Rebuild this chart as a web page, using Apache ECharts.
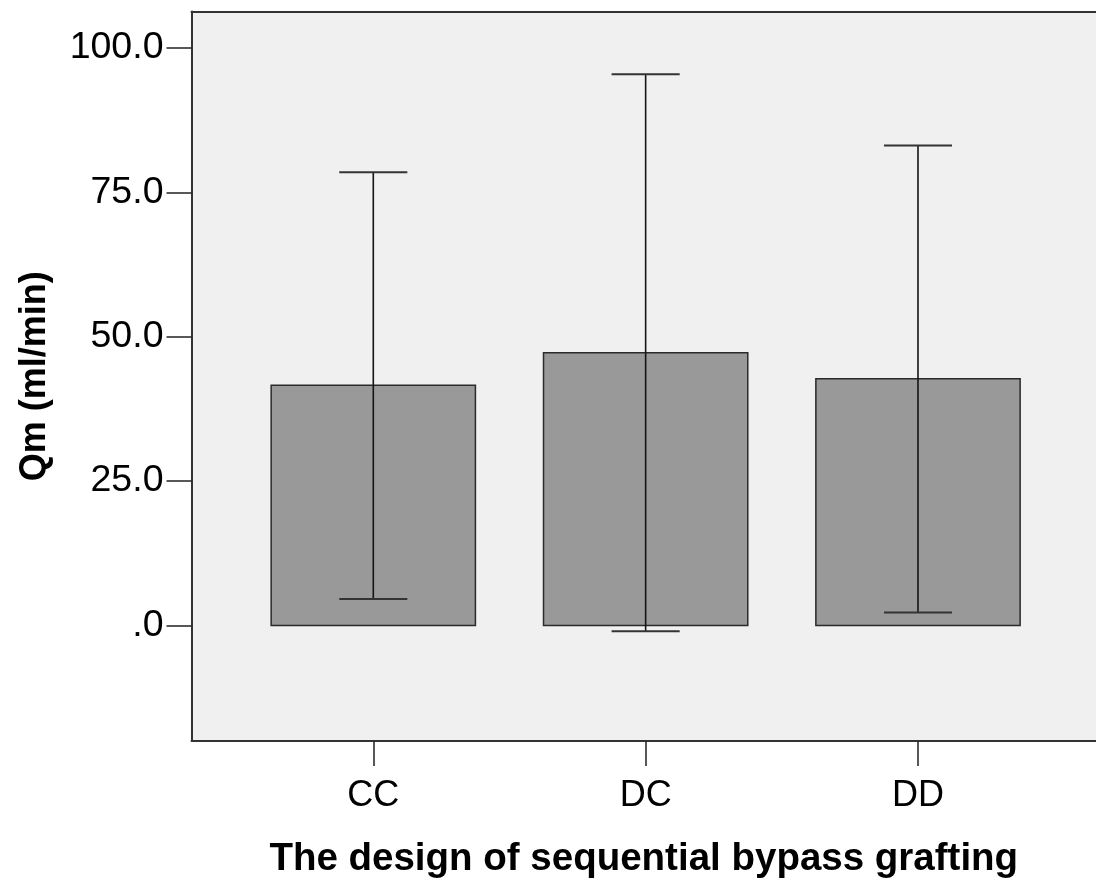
<!DOCTYPE html>
<html>
<head>
<meta charset="utf-8">
<script src="https://cdn.jsdelivr.net/npm/echarts@6/dist/echarts.min.js"></script>
<style>
html,body{margin:0;padding:0;background:#fff;}
#chart{width:1096px;height:884px;}
</style>
</head>
<body>
<div id="chart"></div>
<script>
const categories = ['CC', 'DC', 'DD'];
const means = [41.6, 47.2, 42.7];
const lowerCI = [4.6, -1.0, 2.25];
const upperCI = [78.45, 95.45, 83.1];
const yTicks = [0, 25, 50, 75, 100];
const xTitle = 'The design of sequential bypass grafting';
const yTitle = 'Qm (ml/min)';

const FONT = "'Liberation Sans', Arial, Helvetica, sans-serif";
const chart = echarts.init(document.getElementById('chart'), null, {renderer: 'canvas'});

const rows = categories.map((c, i) => [i + 1, means[i], lowerCI[i], upperCI[i]]);

const axisLineStyle = {color: '#333', width: 2};

const option = {
  animation: false,
  backgroundColor: '#ffffff',
  grid: {
    left: 191.5, top: 11.5, right: 0, height: 730.8,
    show: true, backgroundColor: '#f0f0f0', borderWidth: 0,
    containLabel: false
  },
  xAxis: [{
    type: 'value', min: 0.3325, max: 3.6536,
    axisLine: {show: true, onZero: false, lineStyle: axisLineStyle},
    axisTick: {show: true, length: 25, customValues: [1, 2, 3], lineStyle: {color: '#222', width: 1.5}},
    axisLabel: {
      customValues: [1, 2, 3], margin: 37,
      formatter: v => categories[Math.round(v) - 1] || '',
      fontFamily: FONT, fontSize: 36, color: '#000'
    },
    splitLine: {show: false},
    name: xTitle, nameLocation: 'middle', nameGap: 99,
    nameTextStyle: {fontFamily: FONT, fontSize: 38.5, fontWeight: 'bold', color: '#000'}
  }, {
    type: 'value', position: 'top', min: 0.3325, max: 3.6536,
    axisLine: {show: true, onZero: false, lineStyle: axisLineStyle},
    axisTick: {show: false}, axisLabel: {show: false}, splitLine: {show: false}
  }],
  yAxis: {
    type: 'value', min: -20, max: 106.3,
    axisLine: {show: true, onZero: false, lineStyle: axisLineStyle},
    axisTick: {show: true, length: 25, customValues: yTicks, lineStyle: {color: '#222', width: 1.5}},
    axisLabel: {
      customValues: yTicks, margin: 28,
      formatter: v => (v === 0 ? '.0' : v.toFixed(1)),
      fontFamily: FONT, fontSize: 37.5, color: '#000'
    },
    splitLine: {show: false},
    name: yTitle, nameLocation: 'middle', nameGap: 138,
    nameTextStyle: {fontFamily: FONT, fontSize: 36, fontWeight: 'bold', color: '#000'}
  },
  series: [{
    type: 'custom',
    clip: false,
    data: rows,
    encode: {x: 0, y: [1, 2, 3]},
    renderItem: function (params, api) {
      const x = api.value(0), m = api.value(1), lo = api.value(2), hi = api.value(3);
      const halfBar = 0.375, halfCap = 0.125;
      const tl = api.coord([x - halfBar, m]);
      const br = api.coord([x + halfBar, 0]);
      const pLo = api.coord([x, lo]);
      const pHi = api.coord([x, hi]);
      const capLoL = api.coord([x - halfCap, lo]), capLoR = api.coord([x + halfCap, lo]);
      const capHiL = api.coord([x - halfCap, hi]), capHiR = api.coord([x + halfCap, hi]);
      const lineStyle = {stroke: '#151515', lineWidth: 1.6};
      return {
        type: 'group',
        children: [
          {type: 'rect', shape: {x: tl[0], y: tl[1], width: br[0] - tl[0], height: br[1] - tl[1]},
           style: {fill: '#999999', stroke: '#2a2a2a', lineWidth: 1.5}},
          {type: 'line', shape: {x1: pLo[0], y1: pLo[1], x2: pHi[0], y2: pHi[1]}, style: lineStyle},
          {type: 'line', shape: {x1: capLoL[0], y1: capLoL[1], x2: capLoR[0], y2: capLoR[1]}, style: {stroke: '#333', lineWidth: 2}},
          {type: 'line', shape: {x1: capHiL[0], y1: capHiL[1], x2: capHiR[0], y2: capHiR[1]}, style: {stroke: '#333', lineWidth: 2}}
        ]
      };
    }
  }]
};
chart.setOption(option);
</script>
</body>
</html>
